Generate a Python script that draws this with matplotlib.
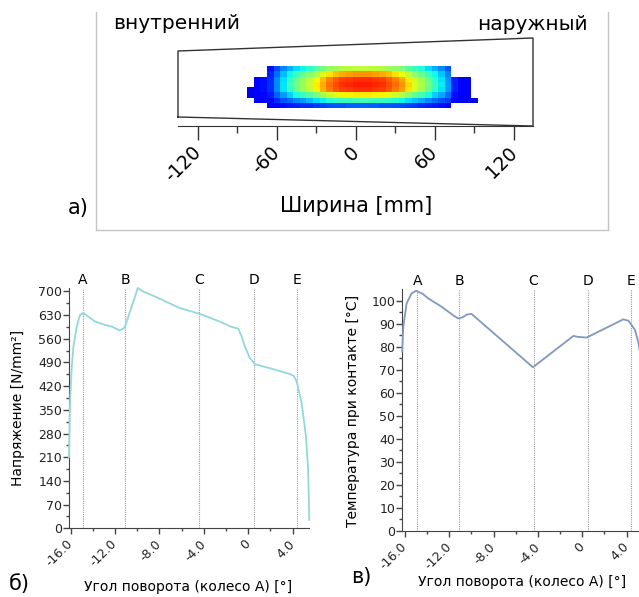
import numpy as np
import matplotlib
matplotlib.use('Agg')
import matplotlib.pyplot as plt
from matplotlib.lines import Line2D
from matplotlib.transforms import blended_transform_factory

plt.rcParams['font.family'] = ['DejaVu Sans']
plt.rcParams['axes.unicode_minus'] = False

# ---------------- data ----------------
# a) contact pattern on the tooth flank
width_major_ticks = [-120, -60, 0, 60, 120]
width_minor_ticks = [-90, -30, 30, 90]
tooth_outline_mm = [-135, 134.4, 134.4, -135, -135]
tooth_outline_h = [9, 0, 88, 75, 9]
cell_start_mm = -82.5
cell_step_mm = 5.0
row_top_h = 60.0
row_bottom_h = 18.0
# relative contact pressure per row (top row first): first column index, values
row_first_col = [3, 3, 1, 1, 0, 0, 1, 3]
row_values = [
    [0.14, 0.20, 0.26, 0.30, 0.34, 0.37, 0.40, 0.45, 0.49, 0.53, 0.55, 0.57, 0.58, 0.58,
     0.58, 0.58, 0.58, 0.57, 0.55, 0.53, 0.50, 0.46, 0.42, 0.39, 0.34, 0.30, 0.26, 0.21],
    [0.16, 0.23, 0.31, 0.37, 0.42, 0.47, 0.51, 0.56, 0.62, 0.67, 0.71, 0.73, 0.74, 0.75,
     0.75, 0.75, 0.74, 0.73, 0.71, 0.67, 0.64, 0.58, 0.53, 0.48, 0.42, 0.37, 0.32, 0.25],
    [0.12, 0.14, 0.17, 0.26, 0.34, 0.41, 0.48, 0.53, 0.58, 0.64, 0.71, 0.77, 0.81, 0.84,
     0.85, 0.86, 0.86, 0.86, 0.85, 0.84, 0.81, 0.77, 0.73, 0.66, 0.60, 0.55, 0.48, 0.41,
     0.35, 0.27, 0.16, 0.12, 0.11],
    [0.12, 0.14, 0.17, 0.26, 0.35, 0.42, 0.49, 0.54, 0.59, 0.66, 0.73, 0.79, 0.83, 0.86,
     0.87, 0.88, 0.88, 0.88, 0.87, 0.86, 0.83, 0.79, 0.75, 0.68, 0.62, 0.56, 0.49, 0.42,
     0.36, 0.28, 0.16, 0.12, 0.11],
    [0.10, 0.12, 0.14, 0.17, 0.26, 0.35, 0.41, 0.48, 0.53, 0.58, 0.65, 0.72, 0.78, 0.82,
     0.84, 0.85, 0.86, 0.86, 0.86, 0.85, 0.84, 0.82, 0.78, 0.74, 0.67, 0.61, 0.55, 0.48,
     0.41, 0.35, 0.28, 0.16, 0.12, 0.11],
    [0.10, 0.11, 0.13, 0.15, 0.22, 0.28, 0.33, 0.38, 0.42, 0.45, 0.50, 0.55, 0.60, 0.63,
     0.65, 0.65, 0.66, 0.66, 0.66, 0.65, 0.65, 0.63, 0.60, 0.57, 0.52, 0.47, 0.43, 0.38,
     0.33, 0.29, 0.23, 0.14, 0.11, 0.11],
    [0.11, 0.12, 0.13, 0.17, 0.21, 0.23, 0.26, 0.28, 0.31, 0.34, 0.36, 0.39, 0.41, 0.42,
     0.42, 0.43, 0.43, 0.43, 0.42, 0.42, 0.41, 0.39, 0.37, 0.34, 0.32, 0.29, 0.26, 0.23,
     0.21, 0.18, 0.13, 0.11, 0.10, 0.10],
    [0.11, 0.12, 0.14, 0.15, 0.16, 0.17, 0.17, 0.18, 0.19, 0.20, 0.21, 0.21, 0.22, 0.22,
     0.22, 0.22, 0.22, 0.21, 0.21, 0.20, 0.20, 0.19, 0.18, 0.17, 0.16, 0.15, 0.14, 0.13],
]
n_cols = 35

# b) contact stress vs. rotation angle
stress_angle = [-16.15, -16.05, -15.9, -15.75, -15.45, -15.15, -14.86, -14.4, -13.8, -12.9,
                -12.3, -11.6, -11.25, -11.1, -10.8, -9.95, -9.5, -8.4, -6.2, -4.4, -2.5,
                -1.6, -0.9, -0.6, -0.3, 0.15, 0.6, 1.95, 3.76, 4.1, 4.36, 4.81, 5.2, 5.4, 5.5]
stress_value = [210, 380, 478, 537, 597, 631, 636, 625, 611, 601, 596, 585, 590, 597, 626,
                710, 700, 685, 651, 634, 610, 596, 590, 567, 537, 503, 485, 473, 456, 450,
                434, 370, 271, 172, 25]

# c) contact temperature vs. rotation angle
temp_angle = [-16.25, -16.15, -15.85, -15.4, -15.0, -14.4, -13.9, -12.7, -11.6, -11.2,
              -10.8, -10.4, -10.0, -4.45, -0.8, -0.4, 0.4, 3.7, 4.17, 4.76, 5.06, 5.4]
temp_value = [78, 88.7, 98.9, 103.2, 104.3, 103, 101, 97.4, 93.5, 92.3, 92.8, 94, 94.3,
              71.1, 84.7, 84.3, 84.0, 91.9, 91.3, 87.3, 82, 72]

marker_angles = [-14.9, -11.1, -4.4, 0.55, 4.4]
marker_labels = ['A', 'B', 'C', 'D', 'E']
angle_major_ticks = [-16, -12, -8, -4, 0, 4]
angle_major_labels = ['-16.0', '-12.0', '-8.0', '-4.0', '0', '4.0']
angle_minor_ticks = [-14, -10, -6, -2, 2]
stress_ticks = [0, 70, 140, 210, 280, 350, 420, 490, 560, 630, 700]
temp_ticks = [0, 10, 20, 30, 40, 50, 60, 70, 80, 90, 100]

# ---------------- figure ----------------
W, H = 639, 597
fig = plt.figure(figsize=(W / 100, H / 100), dpi=100)


def ax_px(x0, y0, x1, y1):
    return fig.add_axes([x0 / W, 1 - y1 / H, (x1 - x0) / W, (y1 - y0) / H])


def fx(x):
    return x / W


def fy(y):
    return 1 - y / H


# panel frame of a)
frame_c = '#c4c4c4'
fig.add_artist(Line2D([fx(96), fx(96)], [fy(12), fy(230)], color=frame_c, lw=1))
fig.add_artist(Line2D([fx(608), fx(608)], [fy(12), fy(230)], color=frame_c, lw=1))
fig.add_artist(Line2D([fx(96), fx(608)], [fy(230), fy(230)], color=frame_c, lw=1))

# ---- a) ----
axa = ax_px(178, 30, 533, 126)
axa.set_xlim(-135, 134.4)
axa.set_ylim(0, 96)
grid = np.full((len(row_values), n_cols), np.nan)
for r, (c0, vals) in enumerate(zip(row_first_col, row_values)):
    grid[r, c0:c0 + len(vals)] = vals
x_edges = cell_start_mm + cell_step_mm * np.arange(n_cols + 1)
y_edges = np.linspace(row_top_h, row_bottom_h, len(row_values) + 1)
axa.pcolormesh(x_edges, y_edges, np.ma.masked_invalid(grid), cmap='jet',
               vmin=0, vmax=1.0, shading='flat')
axa.plot(tooth_outline_mm, tooth_outline_h, color='#333333', lw=1, clip_on=False)
for s in ['top', 'right', 'left']:
    axa.spines[s].set_visible(False)
axa.spines['bottom'].set_color('#333333')
axa.set_yticks([])
axa.set_xticks(width_major_ticks)
axa.set_xticks(width_minor_ticks, minor=True)
axa.tick_params(axis='x', which='major', length=10, width=1, color='#333333',
                labelsize=13.5, pad=7)
axa.tick_params(axis='x', which='minor', length=5, width=1, color='#333333')
for lab in axa.get_xticklabels():
    lab.set_rotation(45)
    lab.set_ha('right')
    lab.set_va('center')
    lab.set_rotation_mode('anchor')
axa.patch.set_alpha(0)

fig.text(fx(113), fy(29), 'внутренний', fontsize=14.5, ha='left', va='baseline')
fig.text(fx(588), fy(29.5), 'наружный', fontsize=14.5, ha='right', va='baseline')
fig.text(fx(356), fy(212), 'Ширина [mm]', fontsize=15, ha='center', va='baseline')
fig.text(fx(78), fy(208), 'а)', fontsize=15, ha='center', va='center')


def style_curve_axes(ax, xlim, yticks, ylim, minor_step):
    ax.set_xlim(*xlim)
    ax.set_ylim(*ylim)
    for s in ['top', 'right']:
        ax.spines[s].set_visible(False)
    for s in ['left', 'bottom']:
        ax.spines[s].set_color('#444444')
    ax.set_xticks(angle_major_ticks)
    ax.set_xticklabels(angle_major_labels)
    ax.set_xticks(angle_minor_ticks, minor=True)
    ax.set_yticks(yticks)
    ax.set_yticks(np.array(yticks[:-1]) + minor_step, minor=True)
    ax.tick_params(which='major', length=4.5, width=1, color='#444444', labelsize=9,
                   labelcolor='#222222')
    ax.tick_params(which='minor', length=2.5, width=1, color='#444444')
    ax.tick_params(axis='y', which='major', pad=0.5)
    ax.tick_params(axis='x', which='major', pad=5.5)
    for lab in ax.get_xticklabels():
        lab.set_rotation(45)
        lab.set_ha('right')
        lab.set_va('center')
        lab.set_rotation_mode('anchor')
    tr = blended_transform_factory(ax.transData, ax.transAxes)
    for xa, lt in zip(marker_angles, marker_labels):
        ax.axvline(xa, color='#999999', lw=0.8, ls=(0, (1, 1)), zorder=1)
        ax.text(xa, 1.035, lt, transform=tr, ha='center', va='center', fontsize=10)


# ---- b) ----
axb = ax_px(69, 288, 309.3, 528.3)
axb.plot(stress_angle, stress_value, color='#93d8da', lw=1.3, clip_on=False, zorder=3)
style_curve_axes(axb, (-16.15, 5.5), stress_ticks, (0, 710), 35)
fig.text(fx(18), fy(408), 'Напряжение [N/mm²]', fontsize=10, rotation=90,
         ha='center', va='center')
fig.text(fx(188), fy(586.7), 'Угол поворота (колесо А) [°]', fontsize=10,
         ha='center', va='center')
fig.text(fx(19.5), fy(584), 'б)', fontsize=15, ha='center', va='center')

# ---- c) ----
axc = ax_px(402.2, 289.2, 643.2, 531)
axc.plot(temp_angle, temp_value, color='#8199bd', lw=1.3, clip_on=False, zorder=3)
style_curve_axes(axc, (-16.25, 5.5), temp_ticks, (0, 105), 5)
fig.text(fx(353), fy(411), 'Температура при контакте [°C]', fontsize=10, rotation=90,
         ha='center', va='center')
fig.text(fx(521.7), fy(581.7), 'Угол поворота (колесо А) [°]', fontsize=10,
         ha='center', va='center')
fig.text(fx(361), fy(577), 'в)', fontsize=15, ha='center', va='center')

fig.savefig('out.png', dpi=100)
